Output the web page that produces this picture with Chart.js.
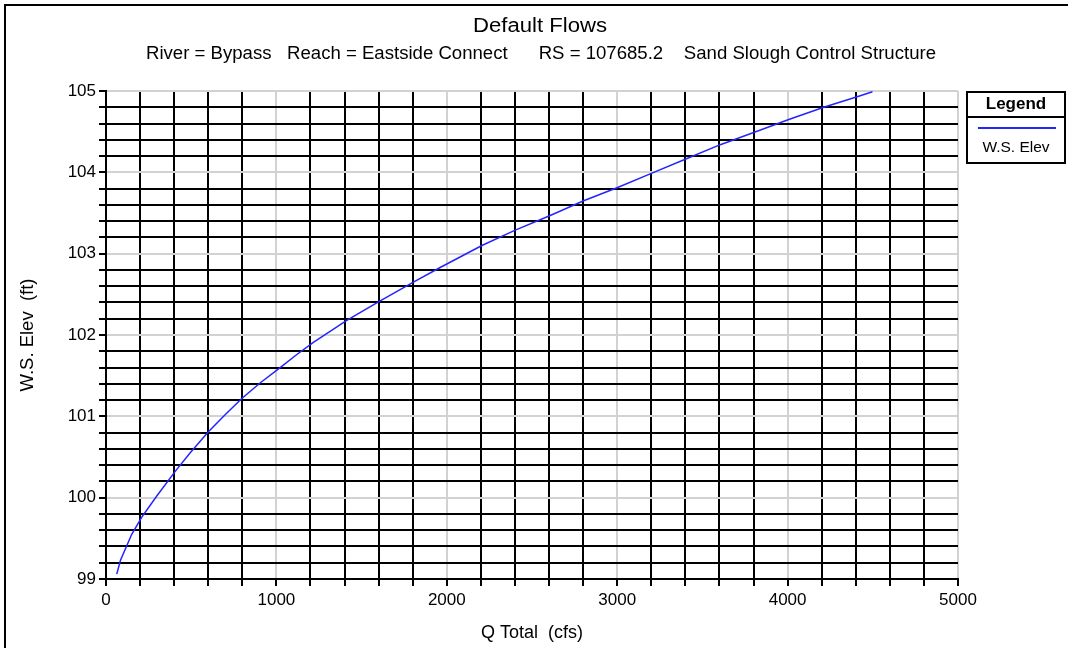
<!DOCTYPE html>
<html><head><meta charset="utf-8">
<script src="https://cdn.jsdelivr.net/npm/chart.js@4"></script>
<style>html,body{margin:0;padding:0;background:#fff;overflow:hidden}#wrap{width:1068px;height:648px;position:relative}</style>
</head><body><div id="wrap"><canvas id="c" width="1068" height="648"></canvas></div>
<script>
const chartTitle = 'Default Flows';
const chartSubtitle = 'River = Bypass   Reach = Eastside Connect      RS = 107685.2    Sand Slough Control Structure';
const seriesName = 'W.S. Elev';
const xTitle = 'Q Total  (cfs)';
const yTitle = 'W.S. Elev  (ft)';
const flows = [63,85,151,210,298,405,493,601,699,797,904,1022,1120,1217,1413,1609,1804,1961,2206,2402,2607,2803,2999,3204,3410,3605,3801,4007,4212,4408,4498];
const elevations = [99.06,99.23,99.55,99.76,100.02,100.32,100.55,100.81,101.02,101.22,101.41,101.60,101.76,101.91,102.18,102.42,102.65,102.83,103.10,103.29,103.47,103.65,103.81,103.99,104.17,104.34,104.49,104.65,104.80,104.93,104.99];
const xRange = [0, 5000];
const yRange = [99, 105];

const FONT = '"Liberation Sans", Arial, sans-serif';
const near = (v, m) => Math.abs(v / m - Math.round(v / m)) < 1e-6;

function fitText(ctx, text, cx, cy, width) {
  const w = ctx.measureText(text).width;
  ctx.save();
  ctx.translate(cx, cy);
  ctx.scale(width / w, 1);
  ctx.fillText(text, 0, 0);
  ctx.restore();
}

const framePlugin = {
  id: 'frame',
  beforeDraw(chart) {
    const ctx = chart.ctx;
    ctx.save();
    ctx.fillStyle = '#fff';
    ctx.fillRect(0, 0, chart.width, chart.height);
    ctx.fillStyle = '#000';
    ctx.fillRect(4, 4, chart.width - 4, 2);
    ctx.fillRect(4, 4, 2, chart.height - 4);
    ctx.restore();
  },
  afterDraw(chart) {
    const ctx = chart.ctx;
    ctx.save();
    ctx.fillStyle = '#000';
    ctx.textAlign = 'center';
    ctx.textBaseline = 'middle';
    ctx.font = '20px ' + FONT;
    fitText(ctx, chartTitle, 540, 26.5, 134);
    ctx.font = '17.5px ' + FONT;
    fitText(ctx, chartSubtitle, 541, 54.5, 790);
    // legend box
    const lx = 966, ly = 91, lw = 100, lh = 73;
    ctx.lineWidth = 2;
    ctx.strokeStyle = '#000';
    ctx.strokeRect(lx + 1, ly + 1, lw - 2, lh - 2);
    ctx.beginPath();
    ctx.moveTo(lx, ly + 26); ctx.lineTo(lx + lw, ly + 26);
    ctx.stroke();
    ctx.font = 'bold 17px ' + FONT;
    ctx.fillText('Legend', lx + lw / 2, ly + 13);
    const ds = chart.data.datasets[0];
    ctx.strokeStyle = ds.borderColor;
    ctx.lineWidth = 2;
    ctx.beginPath();
    ctx.moveTo(lx + 12, ly + 37); ctx.lineTo(lx + lw - 10, ly + 37);
    ctx.stroke();
    ctx.font = '15.5px ' + FONT;
    ctx.fillText(ds.label, lx + lw / 2, ly + 57);
    ctx.restore();
  }
};

new Chart(document.getElementById('c'), {
  type: 'scatter',
  data: {
    datasets: [{
      label: seriesName,
      data: flows.map((q, i) => ({x: q, y: elevations[i]})),
      showLine: true,
      borderColor: '#2424ff',
      borderWidth: 1.5,
      pointRadius: 0,
      tension: 0
    }]
  },
  options: {
    responsive: false,
    animation: false,
    devicePixelRatio: 1,
    layout: {padding: {top: 91, right: 110, left: 0, bottom: 0}},
    plugins: {legend: {display: false}, tooltip: {enabled: false}, title: {display: false}},
    scales: {
      x: {
        type: 'linear', min: xRange[0], max: xRange[1],
        afterFit: s => { s.height = 69; },
        ticks: {
          stepSize: 200, autoSkip: false, maxRotation: 0, padding: 4,
          color: '#000', font: {family: FONT, size: 17},
          callback: v => near(v, 1000) ? String(v) : ''
        },
        grid: {
          color: c => near(c.tick.value, 1000) ? '#d2d2d2' : '#000',
          lineWidth: 2, tickLength: 7, tickColor: '#000', tickWidth: 2
        },
        border: {color: '#000', width: 2},
        title: {display: true, text: xTitle, color: '#000', font: {family: FONT, size: 18}, padding: {top: 0, bottom: 4}}
      },
      y: {
        type: 'linear', min: yRange[0], max: yRange[1],
        afterFit: s => { s.width = 106; },
        ticks: {
          stepSize: 0.2, autoSkip: false, padding: 3,
          color: '#000', font: {family: FONT, size: 17},
          callback: v => near(v, 1) ? String(Math.round(v)) : ''
        },
        grid: {
          color: c => near(c.tick.value, 1) ? '#d2d2d2' : '#000',
          lineWidth: 2, tickLength: 7, tickColor: '#000', tickWidth: 2
        },
        border: {color: '#000', width: 2},
        title: {display: true, text: yTitle, color: '#000', font: {family: FONT, size: 18.5}, padding: {top: 17, bottom: 0}}
      }
    }
  },
  plugins: [framePlugin]
});
</script></body></html>
